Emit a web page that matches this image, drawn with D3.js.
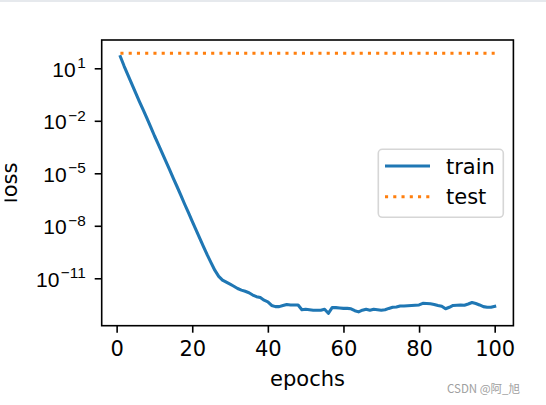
<!DOCTYPE html>
<html>
<head>
<meta charset="utf-8">
<script src="https://cdn.jsdelivr.net/npm/d3@7"></script>
<style>
html,body{margin:0;padding:0;background:#fff;}
svg{display:block;font-family:"DejaVu Sans",sans-serif;}
</style>
</head>
<body>
<svg id="chart" width="546" height="405"></svg>
<script>
// epochs 1..100, losses
var epochs = d3.range(1, 101);
var trainLoss = [
  4.6e1, 1.3e1, 4.1e0, 1.3e0, 4.1e-1, 1.3e-1, 4.3e-2, 1.4e-2, 4.5e-3, 1.4e-3,
  4.7e-4, 1.5e-4, 4.9e-5, 1.6e-5, 5.1e-6, 1.7e-6, 5.4e-7, 1.7e-7, 5.6e-8, 1.8e-8,
  5.9e-9, 1.9e-9, 6.3e-10, 2.1e-10, 7.6e-11, 2.8e-11, 1.3e-11, 7.9e-12, 6.0e-12, 4.6e-12,
  3.5e-12, 2.6e-12, 2.1e-12, 1.8e-12, 1.5e-12, 1.1e-12, 8.9e-13, 7.9e-13, 5.6e-13, 4.5e-13,
  2.8e-13, 2.4e-13, 2.4e-13, 2.8e-13, 3.2e-13, 3.0e-13, 3.0e-13, 3.0e-13, 1.6e-13, 1.7e-13,
  1.6e-13, 1.5e-13, 1.5e-13, 1.5e-13, 1.7e-13, 1.0e-13, 2.1e-13, 2.1e-13, 2.0e-13, 1.9e-13,
  1.9e-13, 1.8e-13, 1.4e-13, 1.2e-13, 1.5e-13, 1.7e-13, 1.5e-13, 1.7e-13, 1.6e-13, 1.5e-13,
  1.6e-13, 1.9e-13, 2.2e-13, 2.3e-13, 2.6e-13, 2.6e-13, 2.7e-13, 2.8e-13, 2.9e-13, 3.0e-13,
  3.7e-13, 3.6e-13, 3.5e-13, 3.2e-13, 2.8e-13, 2.5e-13, 1.8e-13, 2.2e-13, 2.8e-13, 2.9e-13,
  3.0e-13, 2.9e-13, 3.4e-13, 4.1e-13, 3.6e-13, 3.0e-13, 2.4e-13, 2.2e-13, 2.2e-13, 2.5e-13
];
var testLoss = [
  72, 72, 72, 72, 72, 72, 72, 72, 72, 72, 72, 72, 72, 72, 72, 72, 72, 72, 72, 72,
  72, 72, 72, 72, 72, 72, 72, 72, 72, 72, 72, 72, 72, 72, 72, 72, 72, 72, 72, 72,
  72, 72, 72, 72, 72, 72, 72, 72, 72, 72, 72, 72, 72, 72, 72, 72, 72, 72, 72, 72,
  72, 72, 72, 72, 72, 72, 72, 72, 72, 72, 72, 72, 72, 72, 72, 72, 72, 72, 72, 72,
  72, 72, 72, 72, 72, 72, 72, 72, 72, 72, 72, 72, 72, 72, 72, 72, 72, 72, 72, 72
];
var xTicks = [0, 20, 40, 60, 80, 100];
var yTickExps = [1, -2, -5, -8, -11];
var seriesNames = ["train", "test"];

var box = {left: 101.7, top: 40, right: 513.4, bottom: 325.7};
var FS = 21;

var svg = d3.select('#chart');

// thin grey strip along the top edge
svg.append('rect').attr('x', 0).attr('y', 0).attr('width', 546).attr('height', 2)
  .attr('fill', '#e6e9ed');

var x = d3.scaleLinear().domain([-3.95, 104.95]).range([box.left, box.right]);
var y = d3.scaleLog().domain([Math.pow(10, -13.71), Math.pow(10, 2.617)])
  .range([box.bottom, box.top]);

var defs = svg.append('defs');
defs.append('clipPath').attr('id', 'plotclip').append('rect')
  .attr('x', box.left).attr('y', box.top)
  .attr('width', box.right - box.left).attr('height', box.bottom - box.top);
// the ylabel is cut at the left in the source image
defs.append('clipPath').attr('id', 'ylabclip').append('rect')
  .attr('x', 4.5).attr('y', 0).attr('width', 60).attr('height', 405);

var line = d3.line().x(function(d){return x(d[0]);}).y(function(d){return y(d[1]);});

svg.append('path')
  .datum(epochs.map(function(e, i){return [e, trainLoss[i]];}))
  .attr('d', line).attr('fill', 'none')
  .attr('stroke', '#1f77b4').attr('stroke-width', 3.1)
  .attr('stroke-linejoin', 'round').attr('stroke-linecap', 'square')
  .attr('clip-path', 'url(#plotclip)');

svg.append('path')
  .datum(epochs.map(function(e, i){return [e, testLoss[i]];}))
  .attr('d', line).attr('fill', 'none')
  .attr('stroke', '#ff7f0e').attr('stroke-width', 3.1)
  .attr('stroke-dasharray', '3.1,5.15')
  .attr('clip-path', 'url(#plotclip)');

// x axis
var xAxis = d3.axisBottom(x).tickValues(xTicks).tickSize(7).tickPadding(7.3)
  .tickFormat(d3.format('d'));
var gx = svg.append('g').attr('transform', 'translate(0,' + box.bottom + ')').call(xAxis);
gx.select('.domain').remove();
gx.selectAll('line').attr('stroke', '#000').attr('stroke-width', 1.6);
gx.selectAll('text').attr('font-size', FS).attr('font-family', '"DejaVu Sans"')
  .attr('fill', '#000').attr('dy', '0.76em');

// y axis with mathtext-like 10^n labels
var gy = svg.append('g').attr('transform', 'translate(' + box.left + ',0)');
gy.call(d3.axisLeft(y).tickValues(yTickExps.map(function(p){return Math.pow(10, p);}))
  .tickSize(7).tickFormat(''));
gy.select('.domain').remove();
gy.selectAll('line').attr('stroke', '#000').attr('stroke-width', 1.6);
yTickExps.forEach(function(p){
  var t = gy.append('text')
    .attr('x', -16).attr('y', y(Math.pow(10, p)) + 8.4)
    .attr('text-anchor', 'end').attr('font-size', FS).attr('fill', '#000');
  t.append('tspan').text('10');
  t.append('tspan').attr('font-size', FS * 0.73).attr('dx', 1.5).attr('dy', -8.6)
    .text(String(p).replace('-', '\u2212'));
});

// spines
svg.append('rect').attr('x', box.left).attr('y', box.top)
  .attr('width', box.right - box.left).attr('height', box.bottom - box.top)
  .attr('fill', 'none').attr('stroke', '#000').attr('stroke-width', 1.6);

// axis labels
svg.append('text').attr('x', (box.left + box.right) / 2).attr('y', 385.5)
  .attr('text-anchor', 'middle').attr('font-size', FS).attr('fill', '#000').text('epochs');
svg.append('g').attr('clip-path', 'url(#ylabclip)').append('text')
  .attr('transform', 'translate(16.5,' + ((box.top + box.bottom) / 2) + ') rotate(-90)')
  .attr('text-anchor', 'middle').attr('font-size', FS).attr('fill', '#000').text('loss');

// legend
var lg = svg.append('g');
lg.append('rect').attr('x', 378.3).attr('y', 149.3).attr('width', 125).attr('height', 68)
  .attr('rx', 4).attr('fill', '#fff').attr('fill-opacity', 0.8)
  .attr('stroke', '#d6d6d6').attr('stroke-width', 1.6);
var legStyles = [
  {color: '#1f77b4', dash: null},
  {color: '#ff7f0e', dash: '3.1,5.15'}
];
seriesNames.forEach(function(name, i){
  var ly = 166 + i * 30.7;
  var l = lg.append('line').attr('x1', 385).attr('x2', 430).attr('y1', ly).attr('y2', ly)
    .attr('stroke', legStyles[i].color).attr('stroke-width', 3.1);
  if (legStyles[i].dash) l.attr('stroke-dasharray', legStyles[i].dash);
  lg.append('text').attr('x', 446).attr('y', ly + 7.5).attr('font-size', FS)
    .attr('fill', '#000').text(name);
});

// watermark
svg.append('text').attr('x', 520).attr('y', 393).attr('text-anchor', 'end')
  .attr('font-size', 11.5).attr('fill', '#a0a0a0')
  .attr('font-family', '"Noto Sans CJK SC", sans-serif').text('CSDN @阿_旭');
</script>
</body>
</html>
